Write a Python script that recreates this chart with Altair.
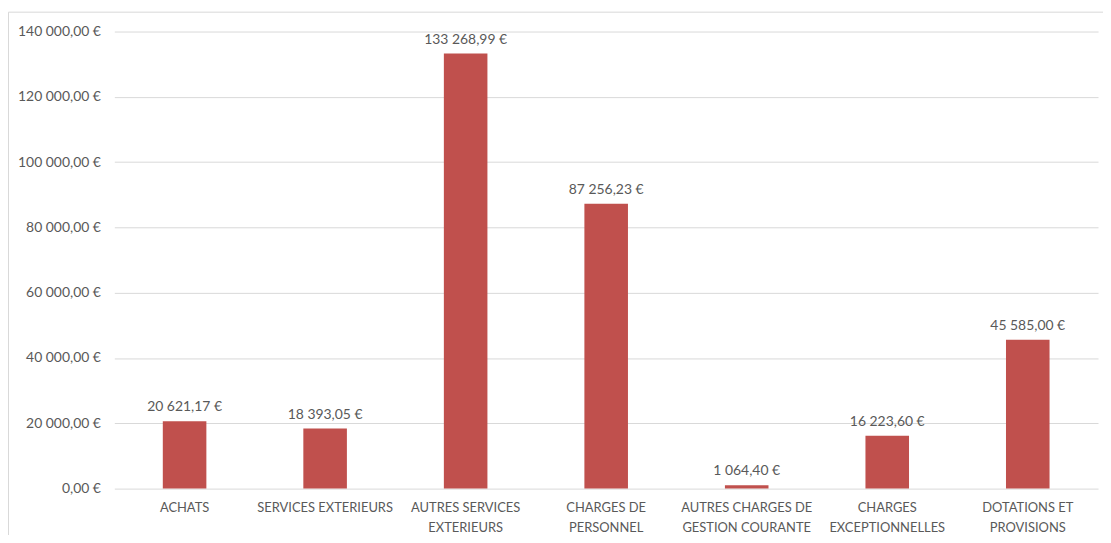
import altair as alt
import pandas as pd

categories = [
    "ACHATS",
    "SERVICES EXTERIEURS",
    "AUTRES SERVICES EXTERIEURS",
    "CHARGES DE PERSONNEL",
    "AUTRES CHARGES DE GESTION COURANTE",
    "CHARGES EXCEPTIONNELLES",
    "DOTATIONS ET PROVISIONS",
]
label_lines = [
    ["ACHATS"],
    ["SERVICES EXTERIEURS"],
    ["AUTRES SERVICES", "EXTERIEURS"],
    ["CHARGES DE", "PERSONNEL"],
    ["AUTRES CHARGES DE", "GESTION COURANTE"],
    ["CHARGES", "EXCEPTIONNELLES"],
    ["DOTATIONS ET", "PROVISIONS"],
]
values = [20621.17, 18393.05, 133268.99, 87256.23, 1064.40, 16223.60, 45585.00]
y_ticks = [0, 20000, 40000, 60000, 80000, 100000, 120000, 140000]


def fr_eur(v):
    s = f"{v:,.2f}".replace(",", "\u00a0").replace(".", ",")
    return s + "\u00a0€"


df = pd.DataFrame({
    "cat": categories,
    "val": values,
    "txt": [fr_eur(v) for v in values],
})

lookup = "{" + ",".join(
    "'" + c + "':[" + ",".join("'" + l + "'" for l in ls) + "]"
    for c, ls in zip(categories, label_lines)
) + "}"

FONT = "Lato"
GRAY = "#595959"

x = alt.X(
    "cat:N",
    sort=categories,
    title=None,
    scale=alt.Scale(paddingInner=0.69, paddingOuter=0.345),
    axis=alt.Axis(
        labelAngle=0,
        labelExpr=lookup + "[datum.label]",
        labelFont=FONT,
        labelFontSize=13,
        labelColor=GRAY,
        labelPadding=13,
        labelLineHeight=20,
        ticks=False,
        domain=False,
        labelBaseline="top",
    ),
)

y = alt.Y(
    "val:Q",
    title=None,
    scale=alt.Scale(domain=[0, 140000], nice=False),
    axis=alt.Axis(
        values=y_ticks,
        format="$,.2f",
        labelFont=FONT,
        labelFontSize=14,
        labelColor=GRAY,
        labelPadding=14,
        ticks=False,
        domain=False,
        gridColor="#d9d9d9",
        gridWidth=1,
    ),
)

bars = alt.Chart(df).mark_bar(color="#C0504D").encode(x=x, y=y)
texts = alt.Chart(df).mark_text(
    baseline="bottom", dy=-7, font=FONT, fontSize=14, color=GRAY
).encode(x=x, y=y, text="txt:N")

frame = alt.Chart(pd.DataFrame({"a": [0]})).mark_rect(
    fill=None, stroke="#d9d9d9", strokeWidth=1
).encode(
    x=alt.value(-106.5), x2=alt.value(1100), y=alt.value(-19.5), y2=alt.value(600)
)

chart = alt.layer(frame, bars, texts).properties(
    width=990,
    height=460,
    padding={"left": 107, "top": 22, "right": 5, "bottom": 45},
    autosize=alt.AutoSizeParams(type="none"),
).configure(
    locale={
        "number": {
            "decimal": ",",
            "thousands": "\u00a0",
            "grouping": [3],
            "currency": ["", "\u00a0€"],
        }
    }
).configure_view(stroke=None)

chart.save("out.html", embed_options={"renderer": "svg", "actions": False})
